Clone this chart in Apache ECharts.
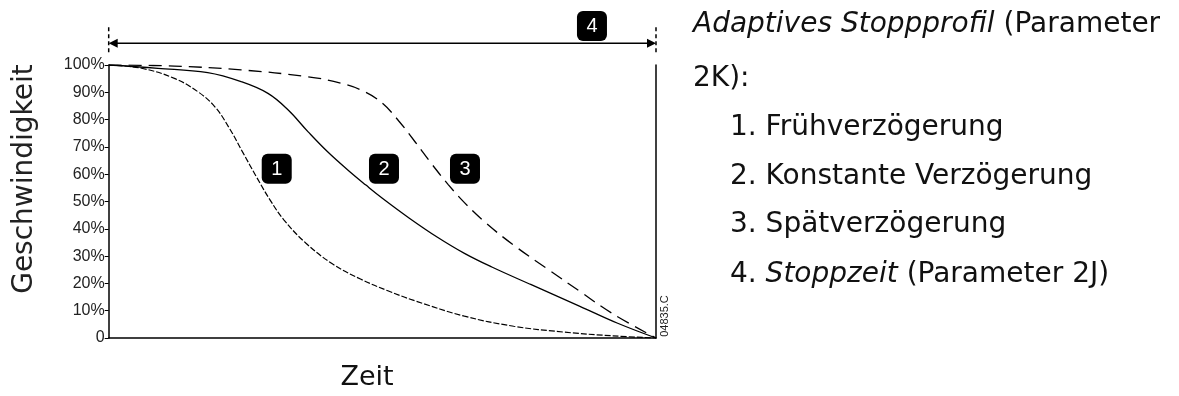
<!DOCTYPE html>
<html>
<head>
<meta charset="utf-8">
<script src="https://cdn.jsdelivr.net/npm/echarts@6/dist/echarts.min.js"></script>
<style>
  html, body { margin: 0; padding: 0; background: #fff; }
  #chart { width: 1179px; height: 396px; }
</style>
</head>
<body>
<div id="chart"></div>
<script>
// Zeit (0..100 % der Stoppzeit) and Geschwindigkeit in %
const zeit1 = [0, 6, 12, 16.3, 19.4, 22, 24.5, 27, 29.5, 32, 36, 41, 46, 51, 56, 65, 74, 83, 92, 100];
const frueh = [100, 98.8, 95.1, 90.2, 84.7, 77, 68, 59, 50.5, 43.3, 34.8, 27, 21.6, 17.3, 13.6, 8, 4.3, 2.2, 0.8, 0];

const zeit2 = [0, 9, 18.1, 24.2, 29.1, 32.8, 36.4, 40, 44, 47, 50, 55, 60, 65, 70, 77, 86, 93, 100];
const konstant = [100, 98.8, 97.2, 93.9, 89.6, 83.5, 75.6, 68.2, 61, 56, 51.2, 43.8, 37, 31, 26, 19.7, 11.7, 5.4, 0];

const zeit3 = [0, 12, 24.2, 36.4, 42.5, 46.8, 50, 53, 56, 59, 62, 65, 69, 74, 80, 86, 92, 100];
const spaet = [100, 99.6, 98.2, 95.7, 93.3, 90.2, 86, 79.5, 71.8, 63.8, 56.3, 49.6, 42, 34, 25.5, 17.2, 9, 0];

const yTicks = [0, 10, 20, 30, 40, 50, 60, 70, 80, 90, 100];

// badge positions in data space [zeit, geschwindigkeit]
const badges = [
  { label: "1", at: [30.7, 62] },
  { label: "2", at: [50.3, 62] },
  { label: "3", at: [65.1, 62] },
  { label: "4", at: [88.3, 114.3] },
];

const zip = (xs, ys) => xs.map((x, i) => [x, ys[i]]);

const chart = echarts.init(document.getElementById("chart"));
const option = {
  animation: false,
  grid: { left: 108.7, right: 523, top: 65, bottom: 58 },
  xAxis: {
    type: "value",
    min: 0,
    max: 100,
    axisLine: { lineStyle: { color: "#000", width: 1.5 } },
    axisTick: { show: false },
    axisLabel: { show: false },
    splitLine: { show: false },
  },
  yAxis: [
    {
      type: "value",
      min: 0,
      max: 100,
      interval: 10,
      axisLine: { show: true, lineStyle: { color: "#000", width: 1.5 } },
      axisTick: { show: true, length: 4, lineStyle: { color: "#000" } },
      axisLabel: {
        color: "#222",
        fontFamily: "Liberation Sans",
        fontSize: 16,
        margin: 4,
        formatter: (v) => (yTicks.includes(v) ? (v === 0 ? "0" : v + "%") : ""),
      },
      splitLine: { show: false },
    },
    {
      type: "value",
      position: "right",
      min: 0,
      max: 100,
      axisLine: { show: true, lineStyle: { color: "#000", width: 1.5 } },
      axisTick: { show: false },
      axisLabel: { show: false },
      splitLine: { show: false },
    },
  ],
  series: [
    {
      name: "Frühverzögerung",
      type: "line",
      smooth: 0.4,
      symbol: "none",
      lineStyle: { color: "#000", width: 1.2, type: [6, 2] },
      data: zip(zeit1, frueh),
    },
    {
      name: "Konstante Verzögerung",
      type: "line",
      smooth: 0.4,
      symbol: "none",
      lineStyle: { color: "#000", width: 1.3 },
      data: zip(zeit2, konstant),
    },
    {
      name: "Spätverzögerung",
      type: "line",
      smooth: 0.4,
      symbol: "none",
      lineStyle: { color: "#000", width: 1.3, type: [13, 7] },
      data: zip(zeit3, spaet),
    },
  ],
};
chart.setOption(option);

// annotations: stop time arrow, badges, labels
const px = (p) => chart.convertToPixel({ gridIndex: 0 }, p);
const left = px([0, 108]);
const right = px([100, 108]);
const ay = left[1];
const graphic = [];

graphic.push({
  type: "line",
  shape: { x1: left[0] + 8, y1: ay, x2: right[0] - 8, y2: ay },
  style: { stroke: "#000", lineWidth: 1.5 },
});
graphic.push({
  type: "polygon",
  shape: { points: [[left[0], ay], [left[0] + 9, ay - 4.5], [left[0] + 9, ay + 4.5]] },
  style: { fill: "#000" },
});
graphic.push({
  type: "polygon",
  shape: { points: [[right[0], ay], [right[0] - 9, ay - 4.5], [right[0] - 9, ay + 4.5]] },
  style: { fill: "#000" },
});
[left[0], right[0]].forEach((x) => {
  graphic.push({
    type: "line",
    shape: { x1: x, y1: ay - 16, x2: x, y2: ay + 9 },
    style: { stroke: "#000", lineWidth: 1.5, lineDash: [4, 3] },
  });
});

badges.forEach((b) => {
  const c = px(b.at);
  graphic.push({
    type: "rect",
    shape: { x: c[0] - 15, y: c[1] - 15, width: 30, height: 30, r: 6 },
    style: { fill: "#000" },
  });
  graphic.push({
    type: "text",
    style: {
      x: c[0],
      y: c[1] + 1,
      text: b.label,
      fill: "#fff",
      font: "20px Liberation Sans",
      textAlign: "center",
      textVerticalAlign: "middle",
    },
  });
});

// axis titles
graphic.push({
  type: "text",
  x: 25,
  y: 179,
  rotation: Math.PI / 2,
  style: {
    text: "Geschwindigkeit",
    fill: "#222",
    font: "28px DejaVu Sans",
    textAlign: "center",
    textVerticalAlign: "middle",
  },
});
graphic.push({
  type: "text",
  style: {
    x: 367,
    y: 378,
    text: "Zeit",
    fill: "#111",
    font: "27px DejaVu Sans",
    textAlign: "center",
    textVerticalAlign: "middle",
  },
});
graphic.push({
  type: "text",
  x: 665,
  y: 316,
  rotation: Math.PI / 2,
  style: {
    text: "04835.C",
    fill: "#222",
    font: "11px Liberation Sans",
    textAlign: "center",
    textVerticalAlign: "middle",
  },
});

// description on the right
const rich = {
  it: { fontFamily: "DejaVu Sans", fontSize: 28, fontStyle: "italic", fill: "#111" },
  n: { fontFamily: "DejaVu Sans", fontSize: 28, fill: "#111" },
};
const lines = [
  { x: 693, y: 25, text: "{it|Adaptives Stoppprofil}{n| (Parameter}" },
  { x: 693, y: 79, text: "{n|2K):}" },
  { x: 730, y: 128, text: "{n|1. Frühverzögerung}" },
  { x: 730, y: 177, text: "{n|2. Konstante Verzögerung}" },
  { x: 730, y: 225, text: "{n|3. Spätverzögerung}" },
  { x: 730, y: 275, text: "{n|4. }{it|Stoppzeit}{n| (Parameter 2J)}" },
];
lines.forEach((l) => {
  graphic.push({
    type: "text",
    style: {
      x: l.x,
      y: l.y,
      text: l.text,
      rich: rich,
      textVerticalAlign: "middle",
    },
  });
});

chart.setOption({ graphic: graphic });

window.addEventListener("resize", function () {
  chart.resize();
});
</script>
</body>
</html>
